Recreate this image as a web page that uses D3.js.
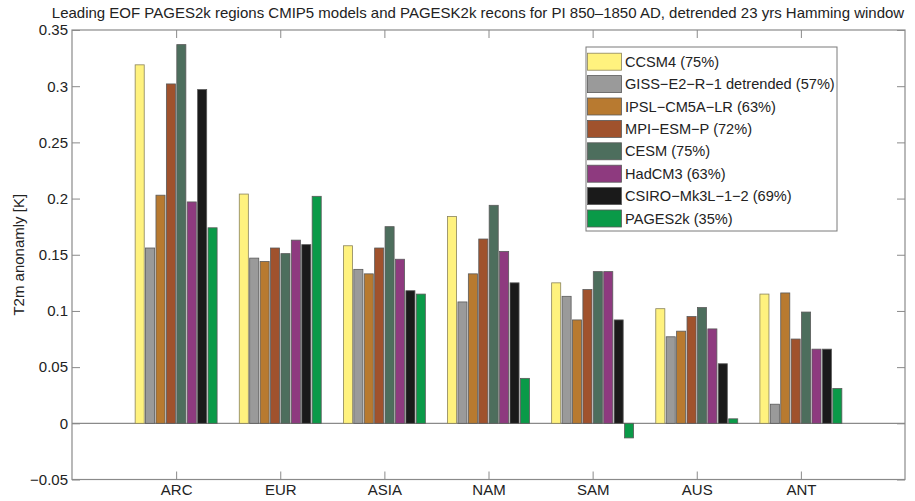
<!DOCTYPE html>
<html>
<head>
<meta charset="utf-8">
<script src="https://cdn.jsdelivr.net/npm/d3@7"></script>
<style>
  html, body { margin: 0; padding: 0; background: #fff; }
  svg text { font-family: "Liberation Sans", Arial, Helvetica, sans-serif; fill: #222; }
</style>
</head>
<body>
<svg id="chart" width="915" height="501"></svg>
<script>
// Regions (x categories)
const regions = ["ARC", "EUR", "ASIA", "NAM", "SAM", "AUS", "ANT"];

// Series names as shown in the legend
const seriesNames = [
  "CCSM4 (75%)",
  "GISS\u2212E2\u2212R\u22121 detrended (57%)",
  "IPSL\u2212CM5A\u2212LR (63%)",
  "MPI\u2212ESM\u2212P (72%)",
  "CESM (75%)",
  "HadCM3 (63%)",
  "CSIRO\u2212Mk3L\u22121\u22122 (69%)",
  "PAGES2k (35%)"
];

const seriesColors = ["#fff27e", "#9a9a9a", "#b87a30", "#a0522d", "#4d6e5d", "#8e3a7f", "#1a1a1a", "#0a9a48"];

// Leading EOF loading per region, one array per series (K)
const ccsm4  = [0.319, 0.204, 0.158, 0.184, 0.125, 0.102, 0.115];
const giss   = [0.156, 0.147, 0.137, 0.108, 0.113, 0.077, 0.017];
const ipsl   = [0.203, 0.144, 0.133, 0.133, 0.092, 0.082, 0.116];
const mpi    = [0.302, 0.156, 0.156, 0.164, 0.119, 0.095, 0.075];
const cesm   = [0.337, 0.151, 0.175, 0.194, 0.135, 0.103, 0.099];
const hadcm3 = [0.197, 0.163, 0.146, 0.153, 0.135, 0.084, 0.066];
const csiro  = [0.297, 0.159, 0.118, 0.125, 0.092, 0.053, 0.066];
const pages  = [0.174, 0.202, 0.115, 0.040, -0.013, 0.004, 0.031];

const seriesValues = [ccsm4, giss, ipsl, mpi, cesm, hadcm3, csiro, pages];

// Y tick labels
const yTicks = [-0.05, 0, 0.05, 0.1, 0.15, 0.2, 0.25, 0.3, 0.35];
const yTickLabels = ["\u22120.05", "0", "0.05", "0.1", "0.15", "0.2", "0.25", "0.3", "0.35"];

const titleText = "Leading EOF PAGES2k regions CMIP5 models and PAGESK2k recons for PI 850\u20131850 AD, detrended 23 yrs Hamming window";
const yLabelText = "T2m anonamly [K]";

// Layout
const plot = { left: 72, right: 905, top: 30, bottom: 479.5 };
const axisColor = "#8a8a8a";
const tickLen = 8;
const fontSize = 15;

const svg = d3.select("#chart");

// Category axis runs from 0 to n+1 with groups centred on integers
const x = d3.scaleLinear().domain([0, regions.length + 1]).range([plot.left, plot.right]);
const y = d3.scaleLinear().domain([-0.05, 0.35]).range([plot.bottom, plot.top]);

// Bars within a group occupy 0.8 of a category unit
const groupWidth = 0.8;
const inner = d3.scaleBand()
  .domain(d3.range(seriesNames.length))
  .range([-groupWidth / 2, groupWidth / 2])
  .paddingInner(0.13)
  .paddingOuter(0.065);

// Zero reference line
svg.append("line")
  .attr("x1", plot.left).attr("x2", plot.right)
  .attr("y1", y(0)).attr("y2", y(0))
  .attr("stroke", axisColor).attr("stroke-width", 1.2);

// Bars
const barData = [];
seriesValues.forEach((vals, s) => {
  vals.forEach((v, r) => barData.push({ s, r, v }));
});

svg.append("g").selectAll("rect")
  .data(barData)
  .join("rect")
  .attr("x", d => x(d.r + 1 + inner(d.s)))
  .attr("width", d => x(d.r + 1 + inner(d.s) + inner.bandwidth()) - x(d.r + 1 + inner(d.s)))
  .attr("y", d => y(Math.max(0, d.v)))
  .attr("height", d => Math.abs(y(d.v) - y(0)))
  .attr("fill", d => seriesColors[d.s])
  .attr("stroke", d => d.s === 0 ? "#8a835c" : "#5a5a5a")
  .attr("stroke-width", 0.8);

// Axis box
svg.append("rect")
  .attr("x", plot.left).attr("y", plot.top)
  .attr("width", plot.right - plot.left).attr("height", plot.bottom - plot.top)
  .attr("fill", "none").attr("stroke", axisColor).attr("stroke-width", 1.2);

// X axis: ticks pointing inward, labels below
const xTickVals = d3.range(1, regions.length + 1);
const xAxis = d3.axisBottom(x)
  .tickValues(xTickVals)
  .tickFormat(i => regions[i - 1])
  .tickSizeInner(-tickLen).tickSizeOuter(0).tickPadding(5);
const gx = svg.append("g").attr("transform", `translate(0,${plot.bottom})`).call(xAxis);
gx.select(".domain").remove();
gx.selectAll("line").attr("stroke", axisColor);
gx.selectAll("text").attr("font-size", fontSize).style("fill", "#222");

// Top ticks mirror the bottom
const gxTop = svg.append("g").attr("transform", `translate(0,${plot.top})`)
  .call(d3.axisTop(x).tickValues(xTickVals).tickFormat("").tickSizeInner(-tickLen).tickSizeOuter(0));
gxTop.select(".domain").remove();
gxTop.selectAll("line").attr("stroke", axisColor);

// Y axis
const yAxis = d3.axisLeft(y)
  .tickValues(yTicks)
  .tickFormat((d, i) => yTickLabels[i])
  .tickSizeInner(-tickLen).tickSizeOuter(0).tickPadding(4);
const gy = svg.append("g").attr("transform", `translate(${plot.left},0)`).call(yAxis);
gy.select(".domain").remove();
gy.selectAll("line").attr("stroke", axisColor);
gy.selectAll("text").attr("font-size", fontSize).style("fill", "#222");

const gyRight = svg.append("g").attr("transform", `translate(${plot.right},0)`)
  .call(d3.axisRight(y).tickValues(yTicks).tickFormat("").tickSizeInner(-tickLen).tickSizeOuter(0));
gyRight.select(".domain").remove();
gyRight.selectAll("line").attr("stroke", axisColor);

// Title
svg.append("text")
  .attr("x", 478).attr("y", 18)
  .attr("text-anchor", "middle")
  .attr("font-size", fontSize)
  .text(titleText);

// Y label
svg.append("text")
  .attr("transform", `translate(24,${(plot.top + plot.bottom) / 2}) rotate(-90)`)
  .attr("text-anchor", "middle")
  .attr("font-size", fontSize)
  .text(yLabelText);

// Legend
const legend = { x: 586, y: 47, w: 251, h: 184, rowH: 22.4, first: 61.7 };
svg.append("rect")
  .attr("x", legend.x).attr("y", legend.y)
  .attr("width", legend.w).attr("height", legend.h)
  .attr("fill", "#fff").attr("stroke", "#7a7a7a").attr("stroke-width", 1);

const items = svg.append("g").selectAll("g")
  .data(seriesNames)
  .join("g")
  .attr("transform", (d, i) => `translate(${legend.x},${legend.first + i * legend.rowH})`);

items.append("rect")
  .attr("x", 1.5).attr("y", -8.5)
  .attr("width", 34).attr("height", 17)
  .attr("fill", (d, i) => seriesColors[i])
  .attr("stroke", (d, i) => i === 0 ? "#8a835c" : "#5a5a5a")
  .attr("stroke-width", 0.8);

items.append("text")
  .attr("x", 39).attr("y", 0)
  .attr("dy", "0.35em")
  .attr("font-size", 14.6)
  .text(d => d);
</script>
</body>
</html>
